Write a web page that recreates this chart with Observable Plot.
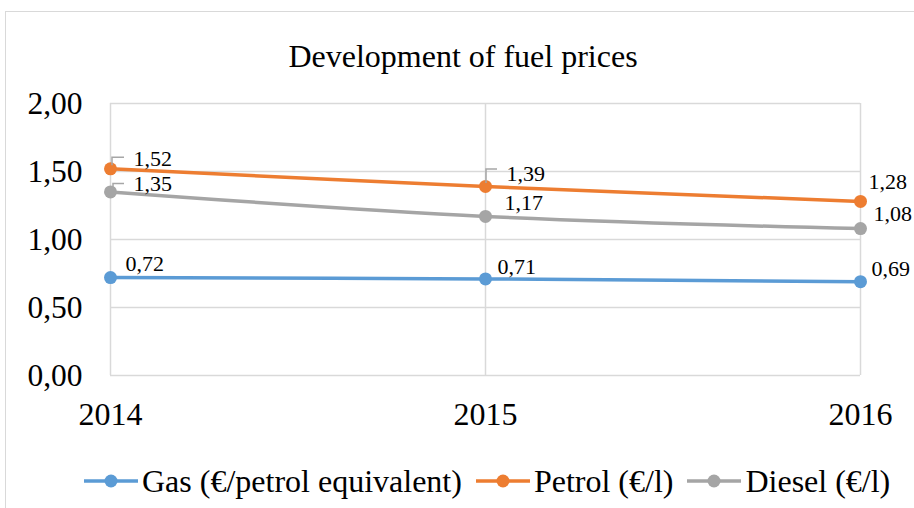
<!DOCTYPE html>
<html>
<head>
<meta charset="utf-8">
<script src="https://cdn.jsdelivr.net/npm/d3@7"></script>
<script src="https://cdn.jsdelivr.net/npm/@observablehq/plot@0.6"></script>
<style>
  html, body { margin: 0; padding: 0; background: #fff; overflow: hidden; }
  #wrap { position: relative; width: 914px; height: 508px; overflow: hidden; font-family: "Liberation Serif", serif; }
  #frame { position: absolute; left: 5px; top: 11px; width: 1000px; height: 600px; border-left: 1.5px solid #d9d9d9; border-top: 1.5px solid #d9d9d9; }
  #title { position: absolute; left: 0; width: 926px; top: 40px; text-align: center; font-family: "Liberation Serif", serif; font-size: 32px; line-height: 32px; color: #000; }
  #chart { position: absolute; left: 0; top: 0; }
  #legend { position: absolute; left: 84px; top: 465px; display: flex; align-items: center; font-family: "Liberation Serif", serif; font-size: 32px; line-height: 32px; color: #000; white-space: nowrap; }
  .item { display: flex; align-items: center; margin-right: 14px; }
  .item svg { margin-right: 4px; }
</style>
</head>
<body>
<div id="wrap">
  <div id="frame"></div>
  <div id="chart"></div>
  <div id="title"></div>
  <div id="legend"></div>
</div>
<script>
// ---- data ----
const chartTitle = "Development of fuel prices";
const years = [2014, 2015, 2016];
const seriesNames = ["Gas (€/petrol equivalent)", "Petrol (€/l)", "Diesel (€/l)"];
const gas = [0.72, 0.71, 0.69];
const petrol = [1.52, 1.39, 1.28];
const diesel = [1.35, 1.17, 1.08];
const yTicks = [0, 0.5, 1, 1.5, 2];

// ---- styles / layout ----
const serif = "Liberation Serif";
const colors = ["#5B9BD5", "#ED7D31", "#A5A5A5"];
const seriesValues = [gas, petrol, diesel];
// label offsets (dx to start, dy to centre) per series, per year index
const labelShift = [
  [[15, -14], [12, -12], [11, -13]],
  [[23, -10], [21, -13], [8, -19]],
  [[23, -8], [19, -13], [13, -15]]
];
// leader lines: [series, year index, path offsets]
const leaders = [
  [1, 0, [[2, -3], [2, -11], [14, -11]]],
  [2, 0, [[3, -4], [3, -8], [14, -8]]],
  [1, 1, [[1, -3], [1, -17], [12, -17]]]
];

const fmt = v => v.toFixed(2).replace(".", ",");

const rows = seriesNames.flatMap((name, s) =>
  years.map((yr, i) => ({ s, name, year: yr, value: seriesValues[s][i], i })));

const marks = [
  Plot.gridY(yTicks, { stroke: "#d9d9d9", strokeOpacity: 1, strokeWidth: 1.5 }),
  Plot.gridX(years, { stroke: "#d9d9d9", strokeOpacity: 1, strokeWidth: 1.5 }),
  Plot.axisY(yTicks, { tickSize: 0, tickPadding: 28, fontSize: 31.5, fontFamily: serif, tickFormat: fmt, label: null, fill: "#000" }),
  Plot.axisX(years, { tickSize: 0, tickPadding: 27, fontSize: 32, fontFamily: serif, tickFormat: d => String(d), label: null, fill: "#000" })
];

seriesNames.forEach((name, s) => {
  const data = rows.filter(d => d.s === s);
  marks.push(Plot.line(data, { x: "year", y: "value", stroke: colors[s], strokeWidth: 3.5, curve: "catmull-rom" }));
  marks.push(Plot.dot(data, { x: "year", y: "value", fill: colors[s], r: 6.5, stroke: null }));
});

// leader lines through the scales
marks.push((index, scales) => {
  const g = d3.create("svg:g");
  leaders.forEach(([s, i, pts]) => {
    const px = scales.x(years[i]);
    const py = scales.y(seriesValues[s][i]);
    g.append("path")
      .attr("d", d3.line()(pts.map(([dx, dy]) => [px + dx, py + dy])))
      .attr("fill", "none")
      .attr("stroke", "#a6a6a6")
      .attr("stroke-width", 1.5);
  });
  return g.node();
});

rows.forEach(d => {
  const [dx, dy] = labelShift[d.s][d.i];
  marks.push(Plot.text([d], { x: "year", y: "value", text: r => fmt(r.value), dx, dy, textAnchor: "start", fontSize: 22, fontFamily: serif, fill: "#000" }));
});

const chart = Plot.plot({
  width: 914,
  height: 508,
  marginLeft: 110,
  marginRight: 54,
  marginTop: 103,
  marginBottom: 133,
  style: { fontFamily: serif, background: "transparent", color: "#000" },
  x: { domain: [2014, 2016] },
  y: { domain: [0, 2] },
  marks
});
document.getElementById("chart").appendChild(chart);

document.getElementById("title").textContent = chartTitle;

const legend = document.getElementById("legend");
seriesNames.forEach((name, s) => {
  const item = document.createElement("div");
  item.className = "item";
  item.innerHTML = `<svg width="54" height="16"><line x1="0" x2="54" y1="8" y2="8" stroke="${colors[s]}" stroke-width="3.5"/><circle cx="27" cy="8" r="6.5" fill="${colors[s]}"/></svg><span>${name}</span>`;
  legend.appendChild(item);
});
</script>
</body>
</html>
